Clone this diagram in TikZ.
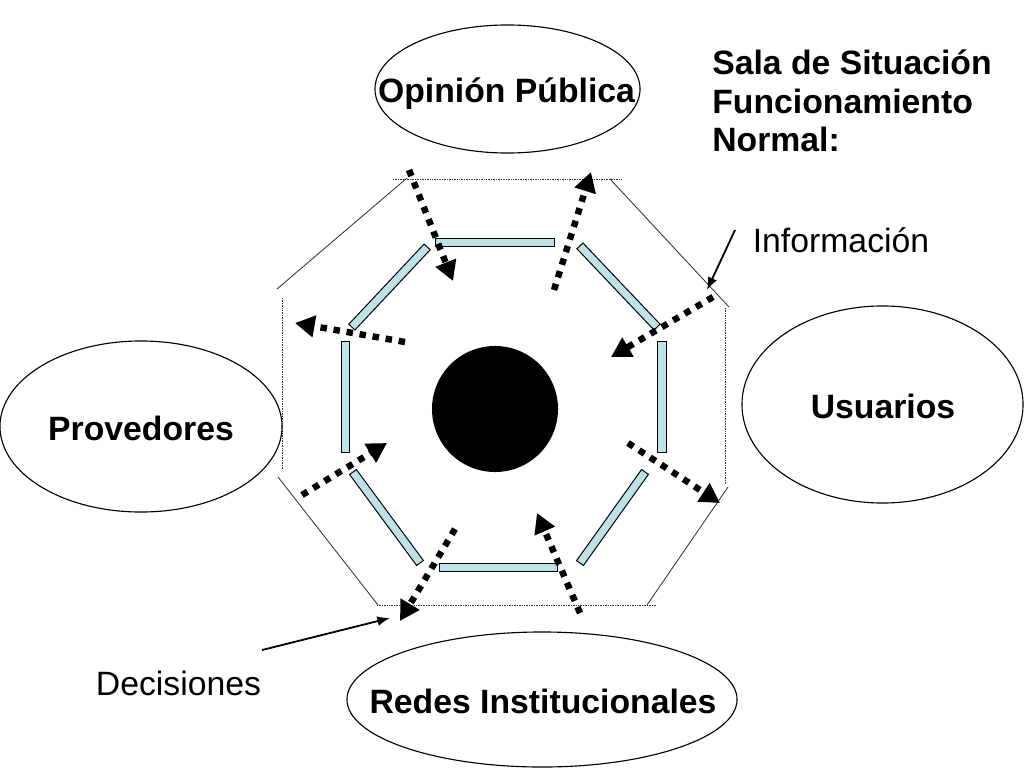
\documentclass[tikz,border=0pt]{standalone}
\usepackage{fontspec}
\setmainfont{Liberation Sans}
\usetikzlibrary{shapes.geometric}
\usetikzlibrary{arrows.meta}

\definecolor{barblue}{RGB}{190,226,230}

\begin{document}
\begin{tikzpicture}[x=0.025cm, y=-0.025cm,
    oval/.style={draw, ellipse, line width=0.8pt, inner sep=0pt},
    title/.style={font=\bfseries\fontsize{24}{27.4}\selectfont, inner sep=0pt},
    tag/.style={font=\fontsize{24}{27.4}\selectfont, inner sep=0pt},
    bar/.style={draw, fill=barblue, line width=0.7pt, minimum height=0.21cm, inner sep=0pt},
    flow/.style={line width=4.6pt, dash pattern=on 4.6pt off 4.8pt, -{Triangle[length=14pt,width=15pt]}},
    pointer/.style={line width=1.3pt, -{Latex[length=9pt,width=7pt]}},
    frame/.style={gray!40!black, line width=0.6pt},
    rim/.style={frame, dash pattern=on 0.6pt off 0.6pt}]
    \useasboundingbox (0,0) rectangle (1024,768);

    % outer frame of the room
    \draw[rim] (393,179) -- (622,179);
    \draw[rim] (725,308) -- (725,485);
    \draw[rim] (377,605) -- (657,605);
    \draw[rim] (282,298) -- (282,470);
    \draw[frame] (407,178) -- (277,289);
    \draw[frame] (610,179) -- (729,307);
    \draw[frame] (728,487) -- (647,605);
    \draw[frame] (278,477) -- (378,605);

    % inner walls
    \foreach \x/\y/\r/\l [count=\i] in {494.5/242.5/0/119, 618.5/286.5/-46.5/112,
        662/396.5/90/111, 612.5/517.5/54.5/112, 498/567.5/0/118,
        386.5/517.5/-53.6/113, 345.5/396.5/90/111, 389.5/287/46.8/110}
        \node[bar, minimum width=\l*0.025cm, rotate=\r] (bar-\i) at (\x,\y) {};

    \node[circle, fill=black, minimum size=3.15cm, inner sep=0pt] (core) at (495,409) {};

    % actors
    \node[oval, minimum width=6.625cm, minimum height=3.2cm] (opinion) at (507.5,89) {};
    \node[oval, minimum width=7.025cm, minimum height=4.925cm] (usuarios) at (882.5,404.5) {};
    \node[oval, minimum width=7.05cm, minimum height=4.275cm] (provedores) at (141,426.5) {};
    \node[oval, minimum width=9.75cm, minimum height=3.375cm] (redes) at (542,699.5) {};

    \node[title, anchor=base] (opinion-text) at (506.5,103) {Opinión Pública};
    \node[title, anchor=base] (usuarios-text) at (883,418) {Usuarios};
    \node[title, anchor=base] (provedores-text) at (141,440) {Provedores};
    \node[title, anchor=base] (redes-text) at (543,713) {Redes Institucionales};

    \node[title, anchor=base west, align=left] (sala) at (712,152)
        {Sala de Situación\\Funcionamiento\\Normal:};
    \node[tag, anchor=base] (info-text) at (841,252) {Información};
    \node[tag, anchor=base] (deci-text) at (178.5,695) {Decisiones};

    % flows in and out
    \coordinate (in-1) at (409,170);   \coordinate (out-1) at (453,281);
    \coordinate (in-2) at (554,290);   \coordinate (out-2) at (591,172);
    \coordinate (in-3) at (405,342);   \coordinate (out-3) at (295,323);
    \coordinate (in-4) at (713,297);   \coordinate (out-4) at (611,357);
    \coordinate (in-5) at (302,495);   \coordinate (out-5) at (387,443);
    \coordinate (in-6) at (628,443);   \coordinate (out-6) at (720,503);
    \coordinate (in-7) at (455,529);   \coordinate (out-7) at (400,621);
    \coordinate (in-8) at (580,613);   \coordinate (out-8) at (537,513);
    \foreach \i in {1,...,8}
        \draw[flow] (in-\i) -- (out-\i);

    \coordinate (info-start) at (735,230);
    \coordinate (info-tip) at (707,290);
    \coordinate (deci-start) at (262,650);
    \coordinate (deci-tip) at (390,618);
    \draw[pointer] (info-start) -- (info-tip);
    \draw[pointer] (deci-start) -- (deci-tip);
\end{tikzpicture}
\end{document}
